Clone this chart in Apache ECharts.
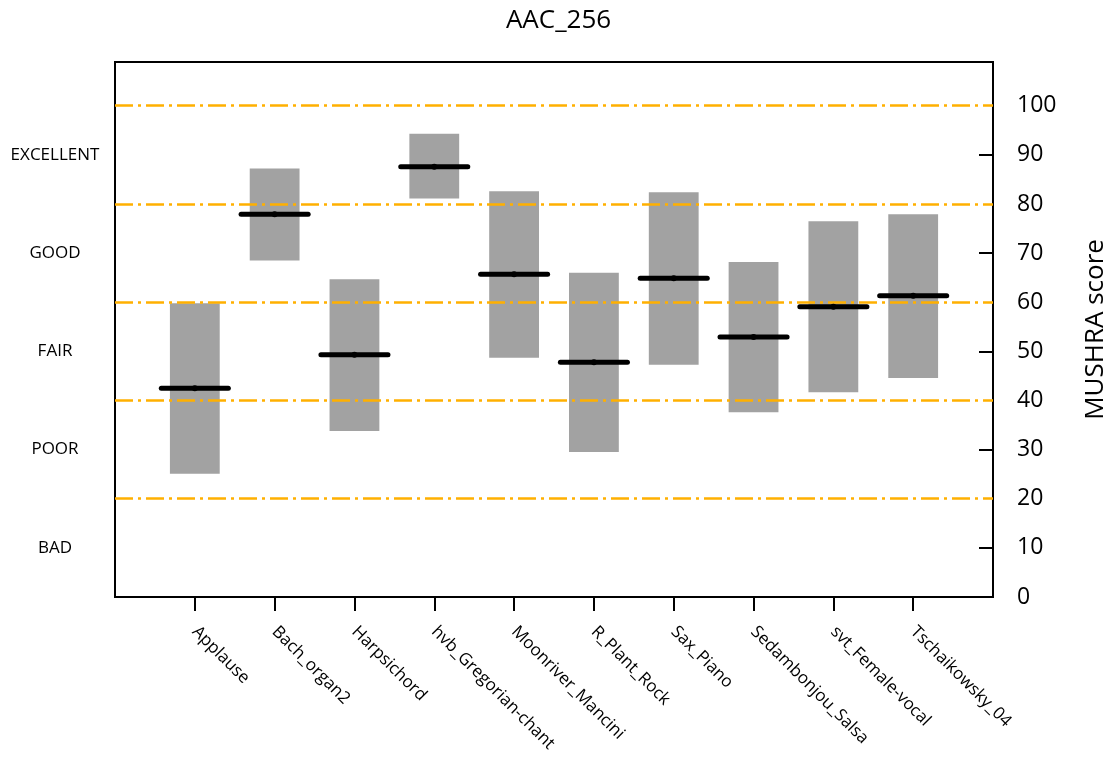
<!DOCTYPE html>
<html>
<head>
<meta charset="utf-8">
<script src="https://cdn.jsdelivr.net/npm/echarts@6/dist/echarts.min.js"></script>
<style>html,body{margin:0;padding:0;background:#fff}#c{width:1117px;height:763px}</style>
</head>
<body>
<div id="c"></div>
<script>
const categories = ['Applause','Bach_organ2','Harpsichord','hvb_Gregorian-chant','Moonriver_Mancini','R_Plant_Rock','Sax_Piano','Sedambonjou_Salsa','svt_Female-vocal','Tschaikowsky_04'];
const meanScore = [42.5, 77.9, 49.3, 87.6, 65.7, 47.8, 64.9, 52.9, 59.1, 61.3];
const lowerCI   = [25.1, 68.5, 33.8, 81.1, 48.7, 29.5, 47.3, 37.6, 41.7, 44.6];
const upperCI   = [59.8, 87.2, 64.7, 94.3, 82.6, 66.0, 82.4, 68.2, 76.5, 77.9];
const qualityLevels = [20, 40, 60, 80, 100];
const qualityLabels = {10:'BAD', 30:'POOR', 50:'FAIR', 70:'GOOD', 90:'EXCELLENT'};
const scoreTicks = [0,10,20,30,40,50,60,70,80,90,100];

const FONT = '"Open Sans", "Noto Sans", sans-serif';
const positions = categories.map((c, i) => i + 1);
const boxData = positions.map((p, i) => [p, lowerCI[i], upperCI[i]]);
const meanData = positions.map((p, i) => [p, meanScore[i]]);

const chart = echarts.init(document.getElementById('c'));
chart.setOption({
  animation: false,
  backgroundColor: '#fff',
  title: {
    text: 'AAC_256', left: 'center', top: 3,
    textStyle: {fontFamily: FONT, fontSize: 26, fontWeight: 'normal', color: '#000'}
  },
  grid: {left: 115, right: 119, top: 62, bottom: 166, show: true, borderColor: '#000', borderWidth: 2, backgroundColor: 'transparent'},
  xAxis: {
    type: 'value', min: 0, max: categories.length + 1, interval: 1,
    axisLine: {show: false, onZero: false},
    splitLine: {show: false},
    axisTick: {show: true, customValues: positions, length: 14, inside: false, lineStyle: {color: '#000', width: 2}},
    axisLabel: {
      customValues: positions, rotate: -45, margin: 32, fontFamily: FONT, fontSize: 17, color: '#000',
      formatter: v => categories[Math.round(v) - 1] || ''
    }
  },
  yAxis: [
    {
      type: 'value', position: 'right', min: 0, max: 108.9, interval: 10,
      name: 'MUSHRA score', nameLocation: 'middle', nameRotate: 90, nameGap: 90,
      nameTextStyle: {fontFamily: FONT, fontSize: 26, color: '#000'},
      axisLine: {show: false, onZero: false},
      splitLine: {show: false},
      axisTick: {show: true, inside: true, length: 14, customValues: [10,30,50,70,90], lineStyle: {color: '#000', width: 2}},
      axisLabel: {customValues: scoreTicks, margin: 24, align: 'left', padding: [10, 0, 0, 0], fontFamily: FONT, fontSize: 23, color: '#000'}
    },
    {
      type: 'value', position: 'left', min: 0, max: 108.9, interval: 10,
      axisLine: {show: false, onZero: false}, axisTick: {show: false}, splitLine: {show: false},
      axisLabel: {customValues: [10,30,50,70,90], margin: 60, align: 'center', padding: [10, 0, 0, 0], fontFamily: FONT, fontSize: 17, color: '#000',
        formatter: v => qualityLabels[Math.round(v)] || ''}
    }
  ],
  series: [
    {
      type: 'custom', name: 'ci', data: boxData, z: 2,
      encode: {x: 0, y: [1, 2]},
      renderItem: (params, api) => {
        const x = api.value(0);
        const p1 = api.coord([x - 0.312, api.value(2)]);
        const p2 = api.coord([x + 0.312, api.value(1)]);
        return {type: 'rect', shape: {x: p1[0], y: p1[1], width: p2[0] - p1[0], height: p2[1] - p1[1]},
          style: {fill: '#a2a2a2'}};
      },
      markLine: {
        silent: true, symbol: ['none', 'none'], label: {show: false}, z: 3,
        lineStyle: {color: '#ffb000', width: 2.5, type: [18, 5, 3, 5]},
        data: qualityLevels.map(v => ({yAxis: v}))
      }
    },
    {
      type: 'custom', name: 'mean', data: meanData, z: 5,
      encode: {x: 0, y: 1},
      renderItem: (params, api) => {
        const x = api.value(0), y = api.value(1);
        const a = api.coord([x - 0.42, y]);
        const b = api.coord([x + 0.42, y]);
        const c = api.coord([x, y]);
        return {type: 'group', children: [
          {type: 'line', shape: {x1: a[0], y1: a[1], x2: b[0], y2: b[1]}, style: {stroke: '#000', lineWidth: 5, lineCap: 'round'}},
          {type: 'circle', shape: {cx: c[0], cy: c[1], r: 3}, style: {fill: '#000'}}
        ]};
      }
    }
  ]
});
</script>
</body>
</html>
